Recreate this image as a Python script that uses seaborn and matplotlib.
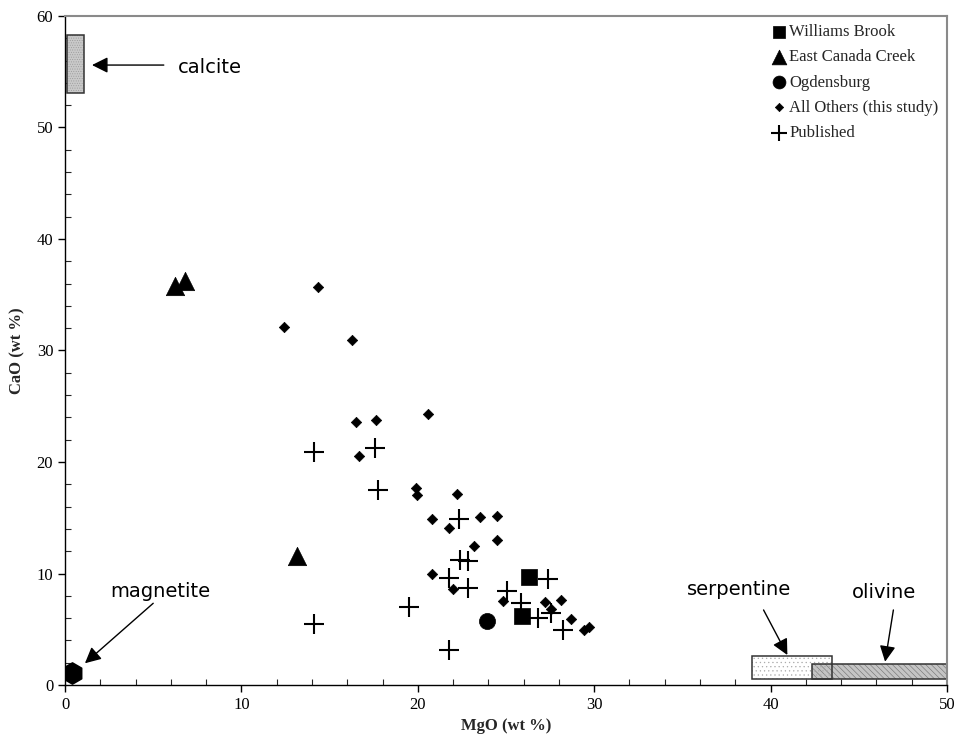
#!/usr/bin/env python3
# CaO vs MgO scatter with mineral reference fields

import pandas as pd
import matplotlib
matplotlib.use('Agg')
import matplotlib.pyplot as plt
from matplotlib.patches import Rectangle
from matplotlib.ticker import MultipleLocator
import seaborn as sns

# Williams Brook
wb_mgo = [26.3, 25.9]
wb_cao = [9.7, 6.2]

# East Canada Creek
ecc_mgo = [6.24, 6.8, 13.15]
ecc_cao = [35.8, 36.2, 11.6]

# Ogdensburg
og_mgo = [23.9]
og_cao = [5.75]

# All others (this study)
oth_mgo = [14.34, 12.41, 16.27, 16.50, 17.63, 20.56, 16.67, 19.90, 19.94, 22.24,
           20.79, 21.77, 23.53, 24.51, 23.19, 24.51, 20.82, 21.98, 24.81, 27.21,
           28.12, 27.55, 28.68, 29.42, 29.72]
oth_cao = [35.70, 32.11, 30.94, 23.59, 23.77, 24.28, 20.54, 17.64, 17.04, 17.13,
           14.89, 14.08, 15.07, 15.13, 12.44, 13.03, 9.98, 8.58, 7.53, 7.42,
           7.60, 6.82, 5.95, 4.93, 5.23]

# Published
pub_mgo = [14.12, 17.57, 17.74, 14.12, 19.52, 21.77, 21.77, 22.35, 22.39, 22.86,
           22.83, 25.07, 25.83, 27.40, 26.83, 27.55, 28.21]
pub_cao = [20.90, 21.26, 17.49, 5.47, 7.02, 3.14, 9.57, 14.89, 11.21, 11.15,
           8.73, 8.43, 7.33, 9.53, 6.04, 6.43, 4.93]

# magnetite
mag_mgo = [0.4]
mag_cao = [1.05]

# mineral fields: (MgO min, MgO max, CaO min, CaO max)
calcite_box = [0.13, 1.08, 53.1, 58.3]
serpentine_box = [38.93, 43.46, 0.54, 2.63]
olivine_box = [42.36, 50.0, 0.54, 1.88]


def main():
    sns.set_theme(style='ticks')
    plt.rcParams['font.family'] = ['Liberation Serif', 'DejaVu Serif']
    plt.rcParams['hatch.linewidth'] = 0.4

    fig = plt.figure(figsize=(9.56, 7.44), dpi=100)
    ax = fig.add_axes([0.068, 0.0793, 0.9226, 0.8992])

    # mineral reference boxes
    boxes = [
        (calcite_box, '#c9c9c9', '#9a9a9a', '.......', 1),
        (olivine_box, '#c4c4c4', '#6f6f6f', '\\\\\\\\\\\\', 1),
        (serpentine_box, 'none', '#aaaaaa', '....', 2),
    ]
    for box, fc, hc, hatch, z in boxes:
        x0, x1, y0, y1 = box
        if fc == 'none':
            # serpentine: white only where it is not over olivine
            ax.add_patch(Rectangle((x0, y0), olivine_box[0] - x0, y1 - y0,
                                   facecolor='white', lw=0, zorder=0.5))
            ax.add_patch(Rectangle((x0, olivine_box[3]), x1 - x0, y1 - olivine_box[3],
                                   facecolor='white', lw=0, zorder=0.5))
        ax.add_patch(Rectangle((x0, y0), x1 - x0, y1 - y0, facecolor=fc,
                               edgecolor=hc, hatch=hatch, lw=0, zorder=z))
        ax.add_patch(Rectangle((x0, y0), x1 - x0, y1 - y0, facecolor='none',
                               edgecolor='#333333', lw=1.1, zorder=2.5))

    groups = [
        ('Williams Brook', wb_mgo, wb_cao, 's', 135),
        ('East Canada Creek', ecc_mgo, ecc_cao, '^', 175),
        ('Ogdensburg', og_mgo, og_cao, 'o', 135),
        ('All Others (this study)', oth_mgo, oth_cao, 'D', 28),
    ]
    for name, xs, ys, mk, size in groups:
        df = pd.DataFrame({'MgO': xs, 'CaO': ys})
        sns.scatterplot(data=df, x='MgO', y='CaO', marker=mk, s=size,
                        color='black', edgecolor='black', linewidth=0.5,
                        label=name, ax=ax, zorder=4)
    df_pub = pd.DataFrame({'MgO': pub_mgo, 'CaO': pub_cao})
    sns.scatterplot(data=df_pub, x='MgO', y='CaO', marker='+', s=200,
                    color='black', linewidth=1.5, label='Published', ax=ax, zorder=4)

    # magnetite point
    df_mag = pd.DataFrame({'MgO': mag_mgo, 'CaO': mag_cao})
    sns.scatterplot(data=df_mag, x='MgO', y='CaO', marker='h', s=230,
                    color='black', edgecolor='black', ax=ax, zorder=4, legend=False)

    # labels with arrows
    lab_font = dict(family=['DejaVu Sans'], fontsize=14, color='black')
    arrow = dict(arrowstyle='-|>', color='black', lw=1.0, mutation_scale=24,
                 shrinkA=0, shrinkB=0)
    ax.annotate('', xy=(1.53, 55.6), xytext=(5.6, 55.6), arrowprops=arrow, zorder=5)
    ax.text(6.4, 55.4, 'calcite', ha='left', va='center', **lab_font)
    ax.annotate('', xy=(1.13, 1.95), xytext=(5.0, 7.33), arrowprops=arrow, zorder=5)
    ax.text(5.4, 8.4, 'magnetite', ha='center', va='center', **lab_font)
    ax.annotate('', xy=(40.95, 2.69), xytext=(39.6, 6.73), arrowprops=arrow, zorder=5)
    ax.text(38.2, 8.6, 'serpentine', ha='center', va='center', **lab_font)
    ax.annotate('', xy=(46.49, 2.09), xytext=(46.96, 6.73), arrowprops=arrow, zorder=5)
    ax.text(46.4, 8.3, 'olivine', ha='center', va='center', **lab_font)

    ax.set_xlim(0, 50)
    ax.set_ylim(0, 60)
    ax.xaxis.set_major_locator(MultipleLocator(10))
    ax.yaxis.set_major_locator(MultipleLocator(10))
    ax.xaxis.set_minor_locator(MultipleLocator(2))
    ax.yaxis.set_minor_locator(MultipleLocator(2))
    ax.tick_params(which='major', direction='out', length=5, width=1,
                   labelsize=12, colors='black')
    ax.tick_params(which='minor', direction='in', length=4, width=0.8)
    ax.set_xlabel('MgO (wt %)', fontsize=12, fontweight='bold', labelpad=4)
    ax.set_ylabel('CaO (wt %)', fontsize=12, fontweight='bold', labelpad=8)

    for side in ['left', 'bottom']:
        ax.spines[side].set_color('black')
        ax.spines[side].set_linewidth(1.0)
    for side in ['top', 'right']:
        ax.spines[side].set_visible(True)
        ax.spines[side].set_color('#8a8a8a')
        ax.spines[side].set_linewidth(1.5)

    ax.legend(loc='upper right', frameon=False, fontsize=12, handletextpad=0.1,
              labelspacing=0.55, borderaxespad=0.1, markerscale=0.8,
              handlelength=1.0)

    fig.savefig('out.png', dpi=100)
    plt.close(fig)


if __name__ == "__main__":
    main()
